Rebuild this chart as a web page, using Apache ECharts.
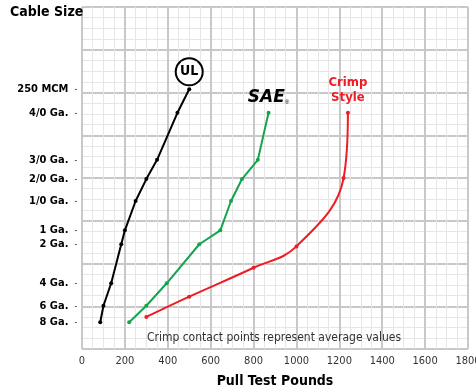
<!DOCTYPE html>
<html>
<head>
<meta charset="utf-8">
<script src="https://cdn.jsdelivr.net/npm/echarts@6/dist/echarts.min.js"></script>
<style>
  html, body { margin: 0; background: #fff; }
  #chart { width: 476px; height: 391px; }
</style>
</head>
<body>
<div id="chart"></div>
<script>
// cable sizes and where they sit on the grid (minor squares from the bottom)
const sizeNames = ['250 MCM', '4/0 Ga.', '3/0 Ga.', '2/0 Ga.', '1/0 Ga.', '1 Ga.', '2 Ga.', '4 Ga.', '6 Ga.', '8 Ga.'];
const sizePos = [24.3, 22.1, 17.7, 15.9, 13.85, 11.1, 9.8, 6.15, 4.05, 2.5];

// pull test pounds per cable size
const ulLbs = [500, 445, 350, 300, 250, 200, 183, 136, 100, 85];
const saeLbs = [null, 870, 820, 746, 695, 645, 547, 395, 300, 220];
// crimp contacts: averages, not on the size rows
const crimpLbs = [1240, 1220, 1000, 800, 500, 300];
const crimpPos = [22.1, 16.0, 9.6, 7.6, 4.9, 3.0];

const narrow = '"Liberation Sans Narrow", "DejaVu Sans Condensed", "Arial Narrow", sans-serif';

function pts (lbs, pos, topLabel) {
  const out = [];
  lbs.forEach((v, i) => {
    if (v == null) return;
    const p = { value: [v, pos[i]] };
    if (out.length === 0 && topLabel) p.label = topLabel;
    out.push(p);
  });
  return out;
}

const ulLabel = {
  show: true, position: 'top', distance: 3,
  formatter: '{c|UL}',
  rich: {
    c: {
      width: 25, height: 25, lineHeight: 25, align: 'center',
      borderColor: '#000', borderWidth: 2, borderRadius: 15,
      backgroundColor: '#fff', color: '#000',
      fontFamily: narrow, fontWeight: 'bold', fontSize: 14
    }
  }
};
const saeLabel = {
  show: true, position: 'top', distance: 5,
  formatter: '{s|SAE}{r|®}',
  rich: {
    s: { fontFamily: '"DejaVu Sans"', fontWeight: 900, fontStyle: 'italic', fontSize: 17, color: '#000' },
    r: { fontSize: 6, color: '#000', verticalAlign: 'bottom' }
  }
};
const crimpLabel = {
  show: true, position: 'top', distance: 6,
  formatter: 'Crimp\nStyle', align: 'center', lineHeight: 15,
  fontFamily: narrow, fontWeight: 'bold', fontSize: 13, color: '#ee1c25'
};

function line (name, data, color, smooth) {
  return {
    name, type: 'line', data, smooth: smooth || false,
    symbol: 'circle', symbolSize: 4,
    itemStyle: { color },
    lineStyle: { color, width: 2 },
    animation: false
  };
}

const crimpData = crimpLbs.map((v, i) => i === 0 ? { value: [v, crimpPos[i]], label: crimpLabel } : [v, crimpPos[i]]);

const option = {
  backgroundColor: '#fff',
  title: [
    { text: 'Cable Size', left: 10, top: 5, padding: 0,
      textStyle: { fontFamily: narrow, fontWeight: 'bold', fontSize: 14, color: '#000' } },
    { text: 'Crimp contact points represent average values', left: 274, top: 332, padding: 0, textAlign: 'center',
      textStyle: { fontFamily: narrow, fontWeight: 'normal', fontSize: 12, color: '#333' } }
  ],
  grid: { left: 82, right: 8, top: 7, bottom: 42, outerBoundsMode: 'none' },
  xAxis: {
    type: 'value', min: 0, max: 1800, interval: 200,
    name: 'Pull Test Pounds', nameLocation: 'middle', nameGap: 25,
    nameTextStyle: { fontFamily: narrow, fontWeight: 'bold', fontSize: 14, color: '#000' },
    axisLine: { show: false }, axisTick: { show: false },
    axisLabel: { margin: 7, fontFamily: narrow, fontSize: 11, color: '#333', formatter: v => String(v) },
    splitLine: { show: true, lineStyle: { color: '#c8c8c8', width: 2 } },
    minorTick: { show: false, splitNumber: 4 },
    minorSplitLine: { show: true, lineStyle: { color: '#e6e6e6', width: 1 } }
  },
  yAxis: {
    type: 'value', min: 0, max: 32, interval: 4,
    axisLine: { show: false },
    axisTick: { show: false },
    axisLabel: {
      customValues: sizePos, margin: 5,
      formatter: v => {
        let best = 0;
        sizePos.forEach((p, i) => { if (Math.abs(p - v) < Math.abs(sizePos[best] - v)) best = i; });
        return '{n|' + sizeNames[best] + '}{t|-}';
      },
      rich: {
        n: { fontFamily: narrow, fontWeight: 'bold', fontSize: 11, color: '#000' },
        t: { fontFamily: narrow, fontSize: 8, color: '#000', padding: [2, 0, 0, 6] }
      }
    },
    splitLine: { show: true, lineStyle: { color: '#c8c8c8', width: 2 } },
    minorTick: { show: false, splitNumber: 4 },
    minorSplitLine: { show: true, lineStyle: { color: '#e6e6e6', width: 1 } }
  },
  series: [
    line('UL', pts(ulLbs, sizePos, ulLabel), '#000'),
    line('SAE', pts(saeLbs, sizePos, saeLabel), '#16a34f'),
    line('Crimp Style', crimpData, '#ee1c25', 0.4)
  ]
};

const chart = echarts.init(document.getElementById('chart'));
chart.setOption(option);
window.addEventListener('resize', () => chart.resize());
</script>
</body>
</html>
